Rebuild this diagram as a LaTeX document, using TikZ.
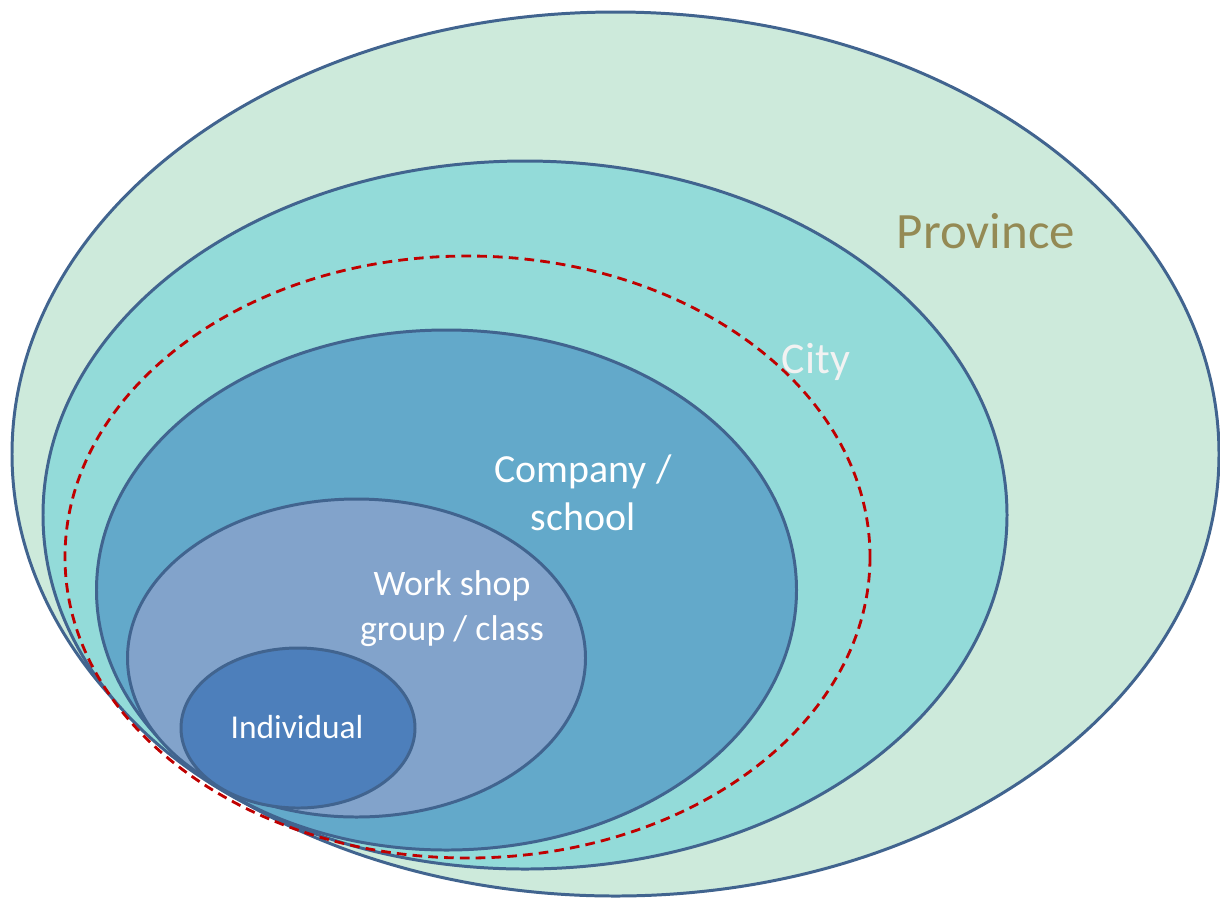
\documentclass[tikz,border=0pt]{standalone}
\usepackage{fontspec}
\setmainfont{Carlito}

\definecolor{ringedge}{HTML}{41648F}
\definecolor{provincefill}{HTML}{CDEADB}
\definecolor{cityfill}{HTML}{93DBD9}
\definecolor{companyfill}{HTML}{63A9CA}
\definecolor{workshopfill}{HTML}{82A3CB}
\definecolor{personfill}{HTML}{4D7FBB}
\definecolor{cityedge}{HTML}{C00000}
\definecolor{provincetext}{HTML}{948A54}

\tikzset{
  ring/.style={draw=ringedge,line width=1.7pt},
  ringlabel/.style={text=white,align=center,anchor=base,inner sep=0pt},
}

\begin{document}
\begin{tikzpicture}[x=0.02cm,y=-0.02cm]
\useasboundingbox (0,0) rectangle (1220,897);
% nested rings, outermost first
\filldraw[ring,fill=provincefill] (615.5,454) ellipse [x radius=603.5,y radius=442];
\filldraw[ring,fill=cityfill] (525,515) ellipse [x radius=482,y radius=354];
\draw[cityedge,line width=1.6pt,dash pattern=on 5.5pt off 3.5pt] (467.5,557) ellipse [x radius=402.5,y radius=301];
\filldraw[ring,fill=companyfill] (446.5,590) ellipse [x radius=350,y radius=260];
\filldraw[ring,fill=workshopfill] (356.5,658) ellipse [x radius=229,y radius=159];
\filldraw[ring,fill=personfill] (298,728) ellipse [x radius=117,y radius=80];
% labels (base of a two-line label is its last line)
\node[ringlabel,text=provincetext,font=\fontsize{29}{35}\selectfont] (province) at (986,248) {Province};
\node[ringlabel,text=white!95!black,font=\fontsize{25}{30}\selectfont] (city) at (816,373) {City};
\node[ringlabel,font=\fontsize{22.7}{27.2}\selectfont] (company) at (583,530) {Company /\\school};
\node[ringlabel,font=\fontsize{20.4}{25.5}\selectfont] (workshop) at (452,640) {Work shop\\group / class};
\node[ringlabel,font=\fontsize{19}{23}\selectfont] (individual) at (297,738) {Individual};
\end{tikzpicture}
\end{document}
